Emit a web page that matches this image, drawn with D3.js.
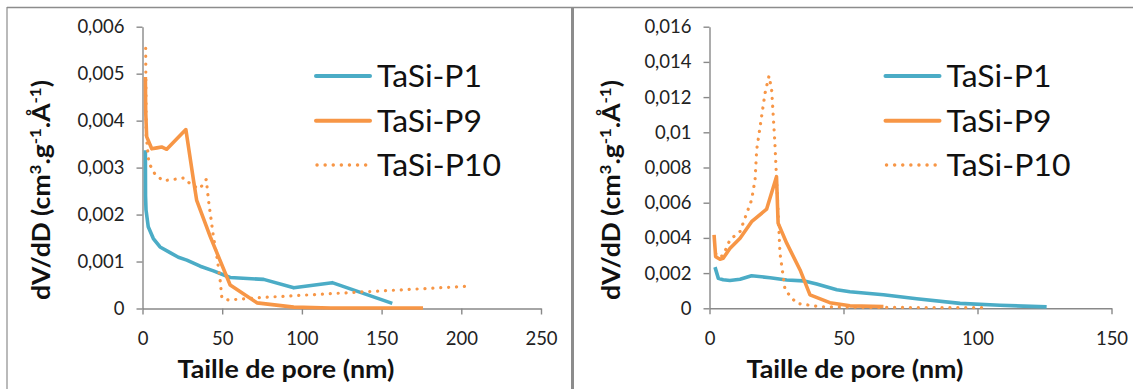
<!DOCTYPE html>
<html><head><meta charset="utf-8">
<script src="https://cdnjs.cloudflare.com/ajax/libs/d3/7.8.5/d3.min.js"></script>
<style>html,body{margin:0;padding:0;background:#fff;}svg{display:block;}</style>
</head><body>
<svg id="chart" width="1133" height="389"></svg>
<script>
// ---------- DATA ----------
const seriesNames = ["TaSi-P1", "TaSi-P9", "TaSi-P10"];

// Left chart
const leftXTicks = [0, 50, 100, 150, 200, 250];
const leftYTicks = [0, 0.001, 0.002, 0.003, 0.004, 0.005, 0.006];
const leftP1X = [1.8, 1.9, 2.2, 3.6, 6.8, 11, 17.3, 22.5, 27.8, 36.2, 44.5, 55, 76, 94.9, 119, 156.7];
const leftP1Y = [0.00337, 0.0024, 0.0021, 0.00174, 0.00149, 0.00131, 0.00119, 0.00109, 0.00103, 0.0009, 0.0008, 0.00066, 0.00062, 0.00044, 0.00055, 0.00011];
const leftP9X = [1.8, 2.0, 2.6, 5.8, 9, 12, 15.2, 27.2, 32, 34, 42.5, 55, 71.8, 94.9, 118, 176];
const leftP9Y = [0.00493, 0.0042, 0.00366, 0.0034, 0.00342, 0.00344, 0.00339, 0.00381, 0.00273, 0.0023, 0.00153, 0.0005, 0.00012, 0.00003, 0.00001, 0.00001];
const leftP10X = [2, 2.3, 4, 8, 13, 20, 26, 31, 36, 40, 41.4, 44.5, 47, 48.7, 49.8, 54, 72.8, 120, 202];
const leftP10Y = [0.00554, 0.0037, 0.0031, 0.00285, 0.00272, 0.00275, 0.00278, 0.00262, 0.00255, 0.00275, 0.0023, 0.00153, 0.00103, 0.0006, 0.00022, 0.00018, 0.00023, 0.00032, 0.00047];

// Right chart
const rightXTicks = [0, 50, 100, 150];
const rightYTicks = [0, 0.002, 0.004, 0.006, 0.008, 0.01, 0.012, 0.014, 0.016];
const rightP1X = [2.05, 3.3, 5.1, 7.6, 11.4, 15.7, 22.6, 28.8, 35, 40, 47.5, 52.4, 64.9, 77.3, 93.5, 108.4, 125.8];
const rightP1Y = [0.00234, 0.0017, 0.00162, 0.00158, 0.00165, 0.00185, 0.00174, 0.00161, 0.00156, 0.00138, 0.00105, 0.00094, 0.00077, 0.00054, 0.00028, 0.00017, 0.00008];
const rightP9X = [1.7, 2.3, 3.9, 5.1, 7.6, 11.4, 15.7, 21.3, 25.0, 25.6, 28.8, 33.8, 37.5, 44.9, 52.4, 64.9];
const rightP9Y = [0.00417, 0.00293, 0.00279, 0.00284, 0.0034, 0.00398, 0.00492, 0.00563, 0.00748, 0.00484, 0.0037, 0.00218, 0.00076, 0.00032, 0.00014, 0.0001];
const rightP10X = [2.3, 3.5, 5.1, 7.6, 11.4, 15.7, 17, 17.6, 20.7, 22.2, 23.2, 24.4, 26.3, 28.2, 32.5, 41.2, 60, 102.2];
const rightP10Y = [0.0031, 0.0029, 0.003, 0.00389, 0.00436, 0.00615, 0.0073, 0.009, 0.0122, 0.0132, 0.0124, 0.0094, 0.00313, 0.00104, 0.00028, 0.00009, 0.00005, 0.00004];

const xTitle = "Taille de pore (nm)";

// ---------- STYLE ----------
const BLUE = "#4BACC6", ORANGE = "#F79646", AXIS = "#898989", FRAME = "#8c8c8c";
const FONT = "Lato, 'Open Sans', sans-serif";

const svg = d3.select("#chart");
const locale = d3.formatLocale({decimal: ",", thousands: " ", grouping: [3], currency: ["", ""]});
const fmt = locale.format("~g");

// frame
svg.append("line").attr("x1", 7).attr("x2", 1133).attr("y1", 7.5).attr("y2", 7.5).attr("stroke", FRAME).attr("stroke-width", 1.5);
svg.append("line").attr("x1", 7).attr("x2", 7).attr("y1", 7).attr("y2", 389).attr("stroke", FRAME).attr("stroke-width", 1.2);
svg.append("line").attr("x1", 572.5).attr("x2", 572.5).attr("y1", 7).attr("y2", 389).attr("stroke", FRAME).attr("stroke-width", 3);

function fit(sel, w) {
  sel.each(function () {
    const len = this.getComputedTextLength();
    if (Math.abs(len - w) > 1) {
      d3.select(this).attr("textLength", w).attr("lengthAdjust", "spacingAndGlyphs");
    }
  });
}

function drawPanel(cfg) {
  const g = svg.append("g");
  const x = d3.scaleLinear().domain([cfg.xTicks[0], cfg.xTicks[cfg.xTicks.length - 1]]).range(cfg.xRange);
  const y = d3.scaleLinear().domain([cfg.yTicks[0], cfg.yTicks[cfg.yTicks.length - 1]]).range(cfg.yRange);

  const yAxis = g.append("g").attr("transform", `translate(${cfg.xRange[0]},0)`)
    .call(d3.axisLeft(y).tickValues(cfg.yTicks).tickFormat(fmt).tickSize(6).tickSizeOuter(0).tickPadding(12));
  const xAxis = g.append("g").attr("transform", `translate(0,${cfg.yRange[0]})`)
    .call(d3.axisBottom(x).tickValues(cfg.xTicks).tickFormat(d3.format("d")).tickSize(6).tickSizeOuter(0).tickPadding(14));
  [yAxis, xAxis].forEach(a => {
    a.select(".domain").attr("stroke", AXIS).attr("stroke-width", 1.4);
    a.selectAll(".tick line").attr("stroke", AXIS).attr("stroke-width", 1.4);
    a.selectAll(".tick text").attr("fill", "#222").style("font-family", FONT).style("font-size", "18.5px");
  });
  xAxis.selectAll(".tick text").attr("dy", "0.9em");

  const line = d3.line().x(d => x(d[0])).y(d => y(d[1]));
  const series = [
    {xs: cfg.p1x, ys: cfg.p1y, color: BLUE, dotted: false},
    {xs: cfg.p9x, ys: cfg.p9y, color: ORANGE, dotted: false},
    {xs: cfg.p10x, ys: cfg.p10y, color: ORANGE, dotted: true}
  ];
  series.forEach(s => {
    const pts = s.xs.map((v, i) => [v, s.ys[i]]);
    const p = g.append("path").datum(pts).attr("d", line).attr("fill", "none")
      .attr("stroke", s.color).attr("stroke-linejoin", "round");
    if (s.dotted) p.attr("stroke-width", 3.2).attr("stroke-dasharray", "0.1 7.8").attr("stroke-linecap", "round");
    else p.attr("stroke-width", 3.6).attr("stroke-linecap", "butt");
  });

  // legend
  const lg = g.append("g");
  series.forEach((s, i) => {
    const ly = cfg.legendY[i];
    const l = lg.append("line").attr("x1", cfg.legendX).attr("x2", cfg.legendX + 54)
      .attr("y1", ly).attr("y2", ly).attr("stroke", s.color);
    if (s.dotted) l.attr("stroke-width", 3.4).attr("stroke-dasharray", "0.1 8").attr("stroke-linecap", "round").attr("x1", cfg.legendX + 1).attr("x2", cfg.legendX + 51);
    else l.attr("stroke-width", 4).attr("stroke-linecap", "round");
    const t = lg.append("text").attr("x", cfg.legendX + 61).attr("y", ly + 11)
      .style("font-family", FONT).style("font-size", "30px").attr("fill", "#111").text(seriesNames[i]);
    fit(t, cfg.legendW[i]);
  });

  // x title
  const xt = g.append("text").attr("x", cfg.xTitleX).attr("y", 378).attr("text-anchor", "middle")
    .style("font-family", FONT).style("font-size", "25px").style("font-weight", "bold").attr("fill", "#111").text(xTitle);
  fit(xt, 217);

  // y title
  const yt = g.append("text").attr("transform", `translate(${cfg.yTitleX},190) rotate(-90)`).attr("text-anchor", "middle")
    .style("font-family", FONT).style("font-size", "25px").style("font-weight", "bold").attr("fill", "#111");
  yt.append("tspan").text("dV/dD (cm");
  yt.append("tspan").attr("dy", -9).style("font-size", "16px").text("3");
  yt.append("tspan").attr("dy", 9).text(".g");
  yt.append("tspan").attr("dy", -9).style("font-size", "16px").text("-1");
  yt.append("tspan").attr("dy", 9).text(".Å");
  yt.append("tspan").attr("dy", -9).style("font-size", "16px").text("-1");
  yt.append("tspan").attr("dy", 9).text(")");
  fit(yt, 220);
}

drawPanel({
  xTicks: leftXTicks, yTicks: leftYTicks, xRange: [142.5, 541], yRange: [308.5, 26.7],
  p1x: leftP1X, p1y: leftP1Y, p9x: leftP9X, p9y: leftP9Y, p10x: leftP10X, p10y: leftP10Y,
  legendX: 316, legendY: [76, 120.7, 165], legendW: [105, 105, 124],
  xTitleX: 286, yTitleX: 50
});
drawPanel({
  xTicks: rightXTicks, yTicks: rightYTicks, xRange: [709.5, 1111.5], yRange: [308.3, 26.7],
  p1x: rightP1X, p1y: rightP1Y, p9x: rightP9X, p9y: rightP9Y, p10x: rightP10X, p10y: rightP10Y,
  legendX: 885.5, legendY: [76, 120.7, 165], legendW: [105, 105, 124],
  xTitleX: 855, yTitleX: 620
});
</script>
</body></html>
